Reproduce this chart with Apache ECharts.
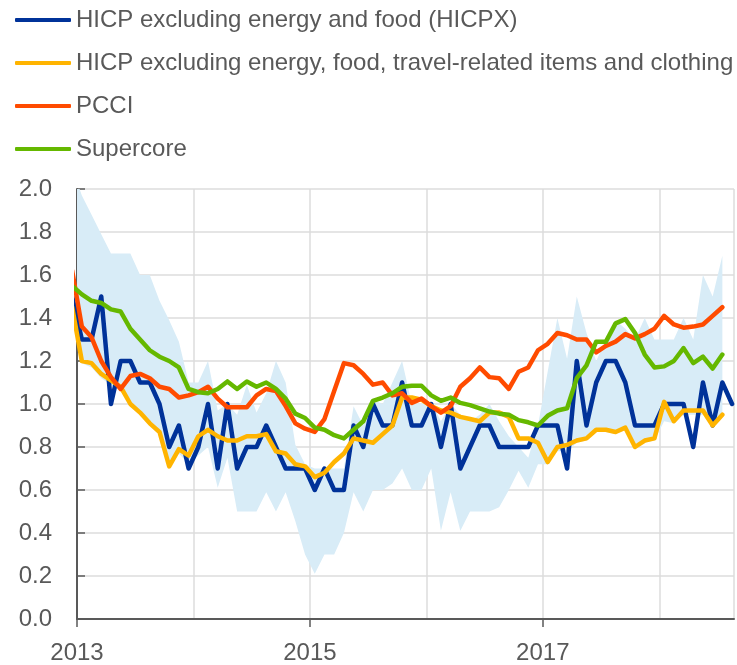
<!DOCTYPE html>
<html>
<head>
<meta charset="utf-8">
<title>Measures of underlying inflation</title>
<script src="https://cdn.jsdelivr.net/npm/echarts@6/dist/echarts.min.js"></script>
<style>
  html, body { margin: 0; padding: 0; background: #fff; }
  #chart { width: 737px; height: 665px; }
</style>
</head>
<body>
<div id="chart"></div>
<script>
// monthly observations, Dec 2012 .. Aug 2018 (Dec 2012 only feeds the clipped left edge)
var months = [];
for (var y = 2012; y <= 2018; y++) {
  for (var m = 1; m <= 12; m++) {
    if (y === 2012 && m < 12) continue;
    if (y === 2018 && m > 8) continue;
    months.push(y + '-' + (m < 10 ? '0' + m : m));
  }
}

var yearTicks = ['2013', '2015', '2017'];

var hicpx = [1.5,
  1.3, 1.3, 1.5, 1.0, 1.2, 1.2, 1.1, 1.1, 1.0, 0.8, 0.9, 0.7,
  0.8, 1.0, 0.7, 1.0, 0.7, 0.8, 0.8, 0.9, 0.8, 0.7, 0.7, 0.7,
  0.6, 0.7, 0.6, 0.6, 0.9, 0.8, 1.0, 0.9, 0.9, 1.1, 0.9, 0.9,
  1.0, 0.8, 1.0, 0.7, 0.8, 0.9, 0.9, 0.8, 0.8, 0.8, 0.8, 0.9,
  0.9, 0.9, 0.7, 1.2, 0.9, 1.1, 1.2, 1.2, 1.1, 0.9, 0.9, 0.9,
  1.0, 1.0, 1.0, 0.8, 1.1, 0.9, 1.1, 1.0];

var exTravel = [1.45,
  1.20, 1.19, 1.14, 1.11, 1.08, 1.00, 0.96, 0.91, 0.87, 0.71, 0.79, 0.76,
  0.85, 0.88, 0.85, 0.83, 0.83, 0.85, 0.85, 0.86, 0.78, 0.77, 0.72, 0.71,
  0.66, 0.68, 0.73, 0.77, 0.84, 0.83, 0.82, 0.86, 0.90, 1.03, 1.03, 1.02,
  0.99, 0.97, 0.96, 0.94, 0.93, 0.92, 0.96, 0.96, 0.94, 0.84, 0.84, 0.82,
  0.73, 0.80, 0.81, 0.83, 0.84, 0.88, 0.88, 0.87, 0.89, 0.80, 0.83, 0.84,
  1.01, 0.92, 0.97, 0.97, 0.97, 0.90, 0.95];

var pcci = [1.62,
  1.36, 1.31, 1.20, 1.125, 1.07, 1.13, 1.14, 1.12, 1.08, 1.07, 1.03, 1.04,
  1.055, 1.08, 1.025, 0.985, 0.985, 0.985, 1.04, 1.07, 1.06, 0.99, 0.91, 0.885,
  0.87, 0.93, 1.06, 1.19, 1.18, 1.14, 1.09, 1.10, 1.04, 1.05, 1.005, 1.025,
  0.99, 0.96, 0.99, 1.08, 1.12, 1.17, 1.125, 1.12, 1.07, 1.15, 1.17, 1.25,
  1.28, 1.33, 1.32, 1.30, 1.30, 1.24, 1.27, 1.29, 1.325, 1.305, 1.325, 1.35,
  1.41, 1.37, 1.355, 1.36, 1.37, 1.41, 1.45];

var supercore = [1.55,
  1.51, 1.48, 1.47, 1.44, 1.43, 1.35, 1.30, 1.25, 1.22, 1.20, 1.17, 1.07,
  1.055, 1.05, 1.07, 1.105, 1.07, 1.105, 1.08, 1.10, 1.07, 1.025, 0.955, 0.935,
  0.89, 0.88, 0.855, 0.84, 0.88, 0.92, 1.015, 1.03, 1.05, 1.08, 1.085, 1.085,
  1.04, 1.015, 1.03, 1.005, 0.995, 0.98, 0.965, 0.955, 0.95, 0.925, 0.915, 0.90,
  0.945, 0.97, 0.98, 1.12, 1.18, 1.29, 1.29, 1.375, 1.395, 1.33, 1.23, 1.17,
  1.175, 1.20, 1.26, 1.19, 1.22, 1.165, 1.23];

// range of other underlying measures (shaded band)
var bandUpper = [2.10,
  1.97, 1.88, 1.79, 1.70, 1.70, 1.70, 1.60, 1.60, 1.48, 1.39, 1.29, 1.10,
  1.10, 1.20, 0.97, 1.00, 0.95, 1.09, 0.96, 1.05, 1.20, 1.10, 0.81, 0.72,
  0.70, 0.70, 0.70, 0.70, 0.99, 0.90, 1.02, 1.00, 1.10, 1.20, 1.00, 1.00,
  1.01, 0.92, 1.00, 0.95, 0.92, 0.95, 1.00, 0.92, 0.85, 0.80, 0.75, 0.90,
  1.15, 1.40, 1.21, 1.50, 1.33, 1.20, 1.30, 1.39, 1.35, 1.30, 1.40, 1.30,
  1.30, 1.30, 1.40, 1.30, 1.60, 1.50, 1.69];

var bandLower = [1.40,
  1.19, 1.17, 1.12, 1.09, 1.06, 0.99, 0.95, 0.90, 0.86, 0.70, 0.77, 0.72,
  0.76, 0.80, 0.61, 0.75, 0.50, 0.50, 0.50, 0.59, 0.50, 0.59, 0.455, 0.30,
  0.21, 0.30, 0.30, 0.40, 0.59, 0.50, 0.60, 0.60, 0.63, 0.70, 0.60, 0.60,
  0.70, 0.41, 0.59, 0.41, 0.50, 0.50, 0.50, 0.52, 0.60, 0.69, 0.61, 0.72,
  0.72, 0.78, 0.78, 0.82, 0.83, 0.87, 0.87, 0.86, 0.88, 0.79, 0.82, 0.83,
  0.92, 0.91, 0.95, 0.95, 0.95, 0.89, 0.94];

var names = [
  'HICP excluding energy and food (HICPX)',
  'HICP excluding energy, food, travel-related items and clothing',
  'PCCI',
  'Supercore'
];
var colors = ['#003299', '#ffb400', '#ff4b00', '#65b800'];
var bandColor = '#d8ecf7';
var font = 'Liberation Sans, Arial, sans-serif';
var textColor = '#595959';

// month string -> months since Jan 2013, points sit mid-month
function monthPos(s) {
  var p = s.split('-');
  return (Number(p[0]) - 2013) * 12 + Number(p[1]) - 1 + 0.5;
}
function pairs(values) {
  return values.map(function (v, i) { return [monthPos(months[i]), v]; });
}

var bandData = bandLower.map(function (lo, i) {
  return [monthPos(months[i]), lo, bandUpper[i]];
});

// the whole band is one polygon: upper edge left->right, lower edge back
function renderBand(params, api) {
  if (params.dataIndex !== 0) return;
  var top = [], bottom = [];
  for (var i = 0; i < bandData.length; i++) {
    top.push(api.coord([bandData[i][0], bandData[i][2]]));
    bottom.push(api.coord([bandData[i][0], bandData[i][1]]));
  }
  return {
    type: 'polygon',
    shape: { points: top.concat(bottom.reverse()) },
    style: { fill: bandColor },
    silent: true
  };
}

var chart = echarts.init(document.getElementById('chart'));

var lineSeries = [hicpx, exTravel, pcci, supercore].map(function (vals, i) {
  return {
    name: names[i],
    type: 'line',
    data: pairs(vals),
    symbol: 'none',
    z: 3 + i,
    lineStyle: { color: colors[i], width: 4.5, join: 'round', cap: 'round' },
    itemStyle: { color: colors[i] }
  };
});

var option = {
  animation: false,
  textStyle: { fontFamily: font },
  legend: {
    orient: 'vertical',
    left: 10,
    top: 3,
    itemWidth: 56,
    itemHeight: 4,
    itemGap: 19,
    icon: 'roundRect',
    data: names,
    textStyle: { fontSize: 24, lineHeight: 24, color: textColor, fontFamily: font }
  },
  grid: { left: 77, right: 0, top: 189, bottom: 44, containLabel: false },
  xAxis: [
    {
      type: 'value',
      min: 0,
      max: 67.7,
      interval: 24,
      axisLine: { show: true, lineStyle: { color: textColor, width: 2 } },
      axisTick: { show: true, length: 8, customValues: [0, 24, 48], lineStyle: { color: textColor, width: 1.5 } },
      axisLabel: {
        fontSize: 24, color: textColor, margin: 22, fontFamily: font,
        formatter: function (v) {
          var k = Math.round(v / 24);
          return Math.abs(v - k * 24) < 0.01 && yearTicks[k] ? yearTicks[k] : '';
        }
      },
      splitLine: { show: false }
    },
    {
      type: 'value',
      min: 0,
      max: 67.7,
      interval: 12,
      position: 'bottom',
      axisLine: { show: false },
      axisTick: { show: false },
      axisLabel: { show: false },
      splitLine: { show: true, lineStyle: { color: '#dcdcdc', width: 1.5 } }
    }
  ],
  yAxis: {
    type: 'value',
    min: 0,
    max: 2,
    interval: 0.2,
    axisLine: { show: true, lineStyle: { color: textColor, width: 2 } },
    axisTick: { show: true, inside: true, length: 8, lineStyle: { color: textColor, width: 1.5 } },
    axisLabel: {
      fontSize: 24, color: textColor, margin: 25, fontFamily: font,
      formatter: function (v) { return v.toFixed(1); }
    },
    splitLine: { show: true, lineStyle: { color: '#dcdcdc', width: 1.5 } }
  },
  series: [
    {
      name: 'band',
      type: 'custom',
      renderItem: renderBand,
      data: bandData,
      encode: { x: 0, y: [1, 2] },
      clip: true,
      z: 1
    }
  ].concat(lineSeries)
};

chart.setOption(option);
</script>
</body>
</html>
